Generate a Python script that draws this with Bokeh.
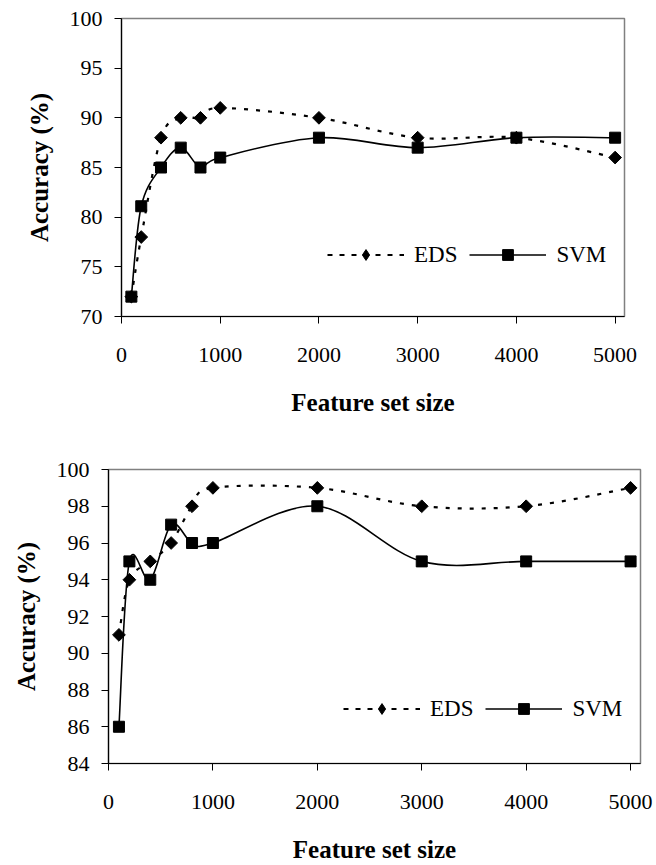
import numpy as np
from bokeh.plotting import figure
from bokeh.models import Range1d, FixedTicker, Legend, LegendItem, ColumnDataSource
from bokeh.embed import file_html
from bokeh.resources import INLINE

feature_sizes = [100, 200, 400, 600, 800, 1000, 2000, 3000, 4000, 5000]
top_eds = [72, 78, 88, 90, 90, 91, 90, 88, 88, 86]
top_svm = [72, 81.1, 85, 87, 85, 86, 88, 87, 88, 88]
bot_eds = [91, 94, 95, 96, 98, 99, 99, 98, 98, 99]
bot_svm = [86, 95, 94, 97, 96, 96, 98, 95, 95, 95]
x_ticks = [0, 1000, 2000, 3000, 4000, 5000]
top_y_ticks = [70, 75, 80, 85, 90, 95, 100]
bot_y_ticks = [84, 86, 88, 90, 92, 94, 96, 98, 100]

FONT = "Liberation Serif"


def smooth(xs, ys):
    """Bezier control points (Catmull-Rom style, as spreadsheet smoothed lines)."""
    n = len(xs)
    d = dict(x0=[], y0=[], x1=[], y1=[], cx0=[], cy0=[], cx1=[], cy1=[])
    for i in range(n - 1):
        xp, yp = (xs[i - 1], ys[i - 1]) if i > 0 else (xs[i], ys[i])
        xn, yn = (xs[i + 2], ys[i + 2]) if i + 2 < n else (xs[i + 1], ys[i + 1])
        d["x0"].append(xs[i]); d["y0"].append(ys[i])
        d["x1"].append(xs[i + 1]); d["y1"].append(ys[i + 1])
        d["cx0"].append(xs[i] + (xs[i + 1] - xp) / 6.0)
        d["cy0"].append(ys[i] + (ys[i + 1] - yp) / 6.0)
        d["cx1"].append(xs[i + 1] - (xn - xs[i]) / 6.0)
        d["cy1"].append(ys[i + 1] - (yn - ys[i]) / 6.0)
    return ColumnDataSource(d)


def make_chart(eds, svm, yticks, height, borders, legend_loc):
    left, right, top, bottom = borders
    p = figure(width=656, height=height, output_backend="svg", toolbar_location=None,
               x_range=Range1d(0, 5095), y_range=Range1d(yticks[0], yticks[-1]),
               min_border_left=left, min_border_right=right,
               min_border_top=top, min_border_bottom=bottom)
    p.xgrid.visible = False
    p.ygrid.visible = False
    p.outline_line_color = "#808080"
    p.outline_line_width = 1.5
    p.background_fill_color = "white"
    p.border_fill_color = "white"

    p.xaxis.ticker = FixedTicker(ticks=x_ticks)
    p.yaxis.ticker = FixedTicker(ticks=yticks)
    for ax in (p.xaxis[0], p.yaxis[0]):
        ax.axis_line_color = "black"
        ax.axis_line_width = 1.2
        ax.major_tick_line_color = "black"
        ax.major_tick_out = 7
        ax.major_tick_in = 0
        ax.minor_tick_line_color = None
        ax.major_label_text_font = FONT
        ax.major_label_text_font_size = "22px"
        ax.major_label_text_color = "black"
        ax.axis_label_text_font = FONT
        ax.axis_label_text_font_size = "25px"
        ax.axis_label_text_font_style = "bold"
        ax.axis_label_text_color = "black"
    p.xaxis.axis_label = "Feature set size"
    p.yaxis.axis_label = "Accuracy (%)"
    p.xaxis.major_label_standoff = 24
    p.xaxis.axis_label_standoff = 24
    p.yaxis.major_label_standoff = 12
    p.yaxis.axis_label_standoff = 14

    src_e = smooth(feature_sizes, eds)
    src_s = smooth(feature_sizes, svm)
    p.bezier(x0="x0", y0="y0", x1="x1", y1="y1", cx0="cx0", cy0="cy0", cx1="cx1", cy1="cy1",
             source=src_e, line_color="black", line_width=2.2, line_dash="4 8")
    p.bezier(x0="x0", y0="y0", x1="x1", y1="y1", cx0="cx0", cy0="cy0", cx1="cx1", cy1="cy1",
             source=src_s, line_color="black", line_width=1.6)
    sc_s = p.scatter(feature_sizes, svm, marker="square", size=11, color="black")
    p.scatter(feature_sizes, eds, marker="square", angle=np.pi / 4, size=9, color="black")

    # legend-only renderers (nothing visible in the plot area)
    leg_e = p.line([np.nan], [np.nan], line_color="black", line_width=2.2, line_dash="5 7")
    leg_s = p.line([np.nan], [np.nan], line_color="black", line_width=1.6)
    leg_d = p.scatter([np.nan], [np.nan], marker="diamond", color="black")

    legend = Legend(items=[LegendItem(label="EDS", renderers=[leg_e, leg_d]),
                           LegendItem(label="SVM", renderers=[leg_s, sc_s])],
                    orientation="horizontal", location=legend_loc,
                    glyph_width=77, glyph_height=27, label_standoff=10, spacing=12,
                    padding=0, margin=0, border_line_color=None,
                    background_fill_alpha=0,
                    label_text_font=FONT, label_text_font_size="23px",
                    label_text_color="black")
    p.add_layout(legend, "center")
    return p


p1 = make_chart(top_eds, top_svm, top_y_ticks, 420, (121, 32, 18, 104), (206, 48))
p2 = make_chart(bot_eds, bot_svm, bot_y_ticks, 445, (108, 16, 49, 98), (235, 41))

open("out.html", "w").write(file_html([p1, p2], INLINE))
